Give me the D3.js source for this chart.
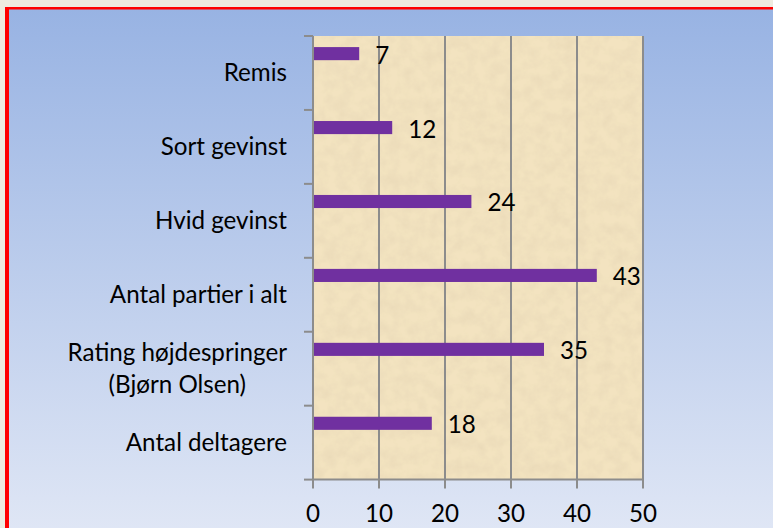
<!DOCTYPE html>
<html>
<head>
<meta charset="utf-8">
<script src="https://cdn.jsdelivr.net/npm/d3@7"></script>
<style>
  html, body { margin: 0; padding: 0; background: #eeebe0; }
  svg { display: block; }
  text { font-family: Lato, "Open Sans", sans-serif; fill: #000; }
</style>
</head>
<body>
<script>
// ---- data (top to bottom as displayed) ----
const categories = [
  ["Remis"],
  ["Sort gevinst"],
  ["Hvid gevinst"],
  ["Antal partier i alt"],
  ["Rating højdespringer", "(Bjørn Olsen)"],
  ["Antal deltagere"]
];
const values = [7, 12, 24, 43, 35, 18];
const xTicks = [0, 10, 20, 30, 40, 50];

const W = 773, H = 528;
const plot = { left: 313, right: 643, top: 36, bottom: 479.6 };
const fontSize = 24.2;

const svg = d3.select("body").append("svg").attr("width", W).attr("height", H);
const defs = svg.append("defs");

// background gradient
const bg = defs.append("linearGradient").attr("id", "bg").attr("x1", 0).attr("y1", 0).attr("x2", 0).attr("y2", 1);
bg.append("stop").attr("offset", "0%").attr("stop-color", "#98b3e3");
bg.append("stop").attr("offset", "100%").attr("stop-color", "#dfe6f5");

// parchment texture
const f = defs.append("filter").attr("id", "parch").attr("x", 0).attr("y", 0).attr("width", "100%").attr("height", "100%");
f.append("feTurbulence").attr("type", "fractalNoise").attr("baseFrequency", 0.08).attr("numOctaves", 4).attr("seed", 11).attr("result", "n");
f.append("feColorMatrix").attr("in", "n").attr("type", "matrix")
  .attr("values", "0 0 0 0 0.82  0 0 0 0 0.70  0 0 0 0 0.48  1.6 0 0 0 -0.55")
  .attr("result", "c");
f.append("feComposite").attr("in", "c").attr("in2", "SourceGraphic").attr("operator", "in").attr("result", "cc");
f.append("feMerge").call(m => { m.append("feMergeNode").attr("in", "SourceGraphic"); m.append("feMergeNode").attr("in", "cc"); });

// outer frame
svg.append("rect").attr("x", 0).attr("y", 0).attr("width", W).attr("height", H).attr("fill", "#eeebe0");
svg.append("rect").attr("x", 9).attr("y", 9).attr("width", W - 9).attr("height", H - 9).attr("fill", "url(#bg)");
svg.append("rect").attr("x", 5).attr("y", 7).attr("width", 4).attr("height", H - 7).attr("fill", "#ff0000");
svg.append("rect").attr("x", 5).attr("y", 7).attr("width", W - 5).attr("height", 2.5).attr("fill", "#ff0000");

// scales
const x = d3.scaleLinear().domain([0, 50]).range([plot.left, plot.right]);
const y = d3.scaleBand().domain(d3.range(categories.length)).range([plot.top, plot.bottom]).padding(0);
const bw = y.bandwidth();

// plot area
svg.append("rect").attr("x", plot.left).attr("y", plot.top)
  .attr("width", plot.right - plot.left).attr("height", plot.bottom - plot.top)
  .attr("fill", "#f3e3c0").attr("filter", "url(#parch)");

// gridlines
svg.append("g").selectAll("line").data(xTicks).join("line")
  .attr("x1", d => x(d)).attr("x2", d => x(d))
  .attr("y1", plot.top).attr("y2", plot.bottom + 9)
  .attr("stroke", "#8c8c8c").attr("stroke-width", 2);

// x axis line
svg.append("line").attr("x1", plot.left - 1).attr("x2", plot.right + 1)
  .attr("y1", plot.bottom).attr("y2", plot.bottom)
  .attr("stroke", "#8c8c8c").attr("stroke-width", 2);

// y ticks at band boundaries
const yBounds = d3.range(categories.length + 1).map(i => plot.top + i * bw);
svg.append("g").selectAll("line").data(yBounds).join("line")
  .attr("x1", plot.left - 9).attr("x2", plot.left)
  .attr("y1", d => d).attr("y2", d => d)
  .attr("stroke", "#8c8c8c").attr("stroke-width", 2);

// x tick labels
svg.append("g").selectAll("text").data(xTicks).join("text")
  .attr("x", d => x(d)).attr("y", 514 + fontSize * 0.35)
  .attr("text-anchor", "middle").attr("font-size", fontSize)
  .text(d => d);

// category labels
const labelRight = 287;
const lineGap = 31.5;
const catG = svg.append("g");
categories.forEach((lines, i) => {
  const cy = y(i) + bw / 2;
  const t = catG.append("text").attr("font-size", fontSize);
  const n = lines.length;
  const tspans = lines.map((ln, k) => t.append("tspan")
    .attr("y", cy + (k - (n - 1) / 2) * lineGap + fontSize * 0.35)
    .text(ln));
  if (n === 1) {
    t.attr("text-anchor", "end");
    tspans[0].attr("x", labelRight);
  } else {
    const maxW = d3.max(tspans, s => s.node().getComputedTextLength());
    t.attr("text-anchor", "middle");
    tspans.forEach(s => s.attr("x", labelRight - maxW / 2));
  }
});

// bars
svg.append("g").selectAll("rect").data(values).join("rect")
  .attr("x", x(0) + 1)
  .attr("y", (d, i) => y(i) + bw * 0.15)
  .attr("width", d => x(d) - x(0) - 1)
  .attr("height", bw * 0.177)
  .attr("fill", "#7030a0");

// value labels
svg.append("g").selectAll("text").data(values).join("text")
  .attr("x", d => x(d) + 16)
  .attr("y", (d, i) => y(i) + bw * 0.15 + bw * 0.177 / 2 + 1.5 + fontSize * 0.35)
  .attr("font-size", fontSize)
  .text(d => d);
</script>
</body>
</html>
